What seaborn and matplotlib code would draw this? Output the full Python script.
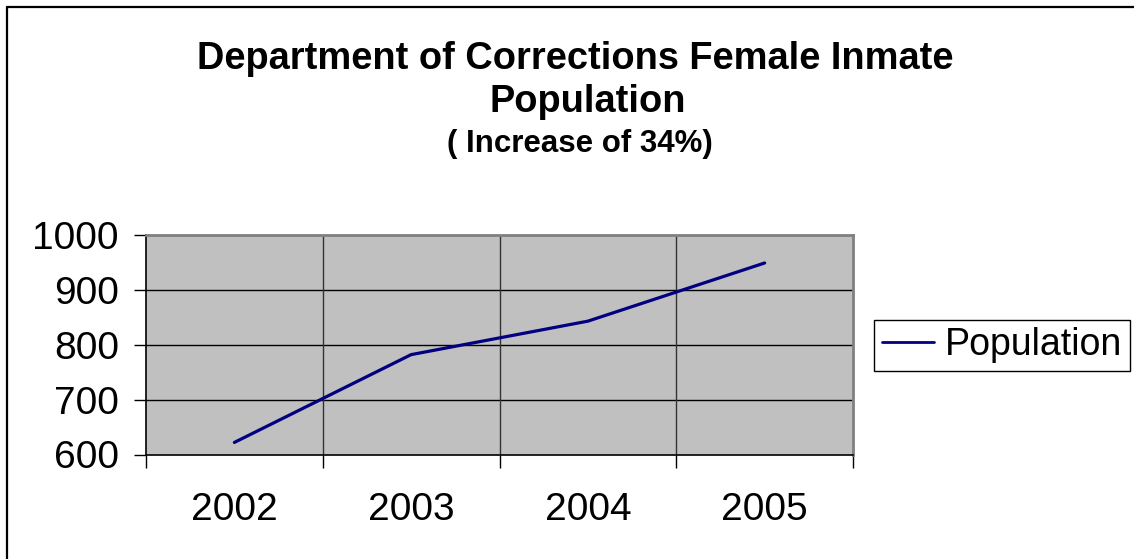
import matplotlib
matplotlib.use("Agg")
import matplotlib.pyplot as plt
from matplotlib.lines import Line2D
from matplotlib.ticker import FixedLocator
import seaborn as sns
import pandas as pd

# Female inmate population by year
years = ["2002", "2003", "2004", "2005"]
population = [622, 782, 843, 949]
y_ticks = [600, 700, 800, 900, 1000]

df = pd.DataFrame({"Year": years, "Population": population})

sns.set_theme(style="white")
plt.rcParams["font.family"] = ["Liberation Sans", "DejaVu Sans"]

W, H = 1134, 559
fig = plt.figure(figsize=(W / 100, H / 100), dpi=100)
fig.patch.set_facecolor("white")

ax = fig.add_axes([146 / W, 1 - 454.5 / H, (853 - 146) / W, (454.5 - 235) / H])
ax.set_facecolor("#C0C0C0")

sns.lineplot(data=df, x="Year", y="Population", ax=ax, color="#000080",
             linewidth=2.3, label="Population", sort=False)

n = len(years)
ax.set_xlim(-0.5, n - 0.5)
ax.set_ylim(y_ticks[0], y_ticks[-1])
ax.set_yticks(y_ticks)
ax.set_yticklabels([str(v) for v in y_ticks])

# category labels at centres, tick marks and gridlines on the category boundaries
ax.set_xticks(range(n))
ax.set_xticklabels(years)
ax.xaxis.set_minor_locator(FixedLocator([i - 0.5 for i in range(n + 1)]))
ax.tick_params(axis="x", which="major", length=0, pad=27, labelsize=28, labelcolor="black")
ax.tick_params(axis="x", which="minor", length=9, width=1, color="black", direction="out", bottom=True)
ax.tick_params(axis="y", which="major", length=9, width=1, color="black", direction="out",
               left=True, pad=10.5, labelsize=28, labelcolor="black")
ax.set_xlabel("")
ax.set_ylabel("")

ax.grid(False)
for v in y_ticks[1:-1]:
    ax.axhline(v, color="black", linewidth=1, zorder=1)
for b in range(1, n):
    ax.axvline(b - 0.5, color="#333333", linewidth=1, zorder=1)

for side in ["left", "bottom"]:
    ax.spines[side].set_color("black")
    ax.spines[side].set_linewidth(1.2)
for side in ["top", "right"]:
    ax.spines[side].set_color("#808080")
    ax.spines[side].set_linewidth(2)
    ax.spines[side].set_visible(True)

leg = ax.legend(loc="center left", bbox_to_anchor=(874 / W, 1 - 345 / H),
                bbox_transform=fig.transFigure, frameon=True, fancybox=False,
                fontsize=27, handlelength=1.4, handletextpad=0.3,
                borderpad=0.2, borderaxespad=0)
leg.get_frame().set_edgecolor("black")
leg.get_frame().set_linewidth(1)
leg.get_frame().set_facecolor("white")
leg.get_frame().set_alpha(1)
for text in leg.get_texts():
    text.set_color("black")
for line in leg.get_lines():
    line.set_linewidth(2)

# title block
fig.text(575 / W, 1 - 69 / H, "Department of Corrections Female Inmate",
         ha="center", va="baseline", fontsize=27.4, fontweight="bold", color="black")
fig.text(588 / W, 1 - 112 / H, "Population",
         ha="center", va="baseline", fontsize=27.4, fontweight="bold", color="black")
fig.text(580 / W, 1 - 152 / H, "( Increase of 34%)",
         ha="center", va="baseline", fontsize=22.5, fontweight="bold", color="black")

# outer chart border (top and left edges)
fig.add_artist(Line2D([6.5 / W, 1.0], [1 - 7 / H, 1 - 7 / H], transform=fig.transFigure,
                      color="black", linewidth=1.6))
fig.add_artist(Line2D([6.5 / W, 6.5 / W], [0.0, 1 - 7 / H], transform=fig.transFigure,
                      color="black", linewidth=1.6))

fig.savefig("out.png", dpi=100)
